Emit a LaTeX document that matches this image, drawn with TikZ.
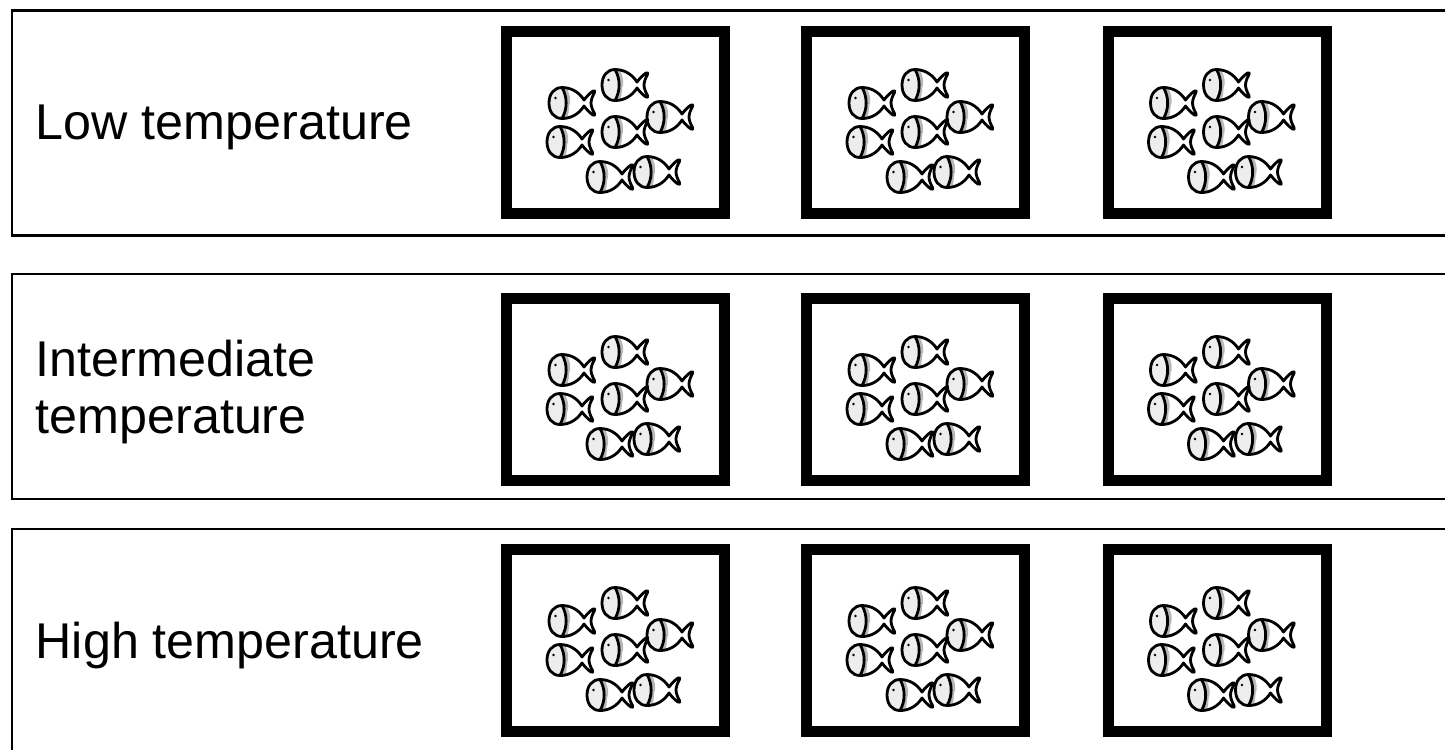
\documentclass[tikz,border=0pt]{standalone}
\usepackage{fontspec}
\setmainfont{Liberation Sans}
\usetikzlibrary{positioning}

\definecolor{headgray}{gray}{0.93}
\definecolor{bandgray}{gray}{0.72}

% seven fish around the centre of a tank
\newcommand{\fishschool}[1]{%
    \foreach \dx/\dy in {-66.5/-19.5, -13.5/-37.5, 31.5/-5.5, -13.5/9.5,
                         -68.5/19.5, -28.5/54.5, 18.5/49.5}
        \pic at ([shift={(\dx,\dy)}]#1.center) {fish};
}

\begin{document}
\begin{tikzpicture}[
        x=0.1mm, y=-0.1mm,
        rowbox/.style={rectangle, draw=black, line width=0.25mm, inner sep=0,
            minimum width=145mm, minimum height=22.5mm},
        tank/.style={rectangle, draw=black, line width=1.1mm, inner sep=0,
            minimum width=21.8mm, minimum height=18.2mm},
        rowtext/.style={inner sep=0, align=left,
            font=\fontsize{14.3}{16.2}\selectfont},
        fishline/.style={line width=0.28mm, line join=round},
        fish/.pic={
            % pale head and the darker band behind the gill
            \fill[headgray] (13,-15.5) .. controls (5,-15.5) and (0,-9) .. (0,0)
                .. controls (0,9) and (5,15.5) .. (13,15.5)
                .. controls (18.5,6) and (18.5,-6) .. (13,-15.5);
            \fill[bandgray] (13,-15.5) .. controls (18.5,-6) and (18.5,6) .. (13,15.5)
                .. controls (15,15.5) and (17,15.2) .. (18,15)
                .. controls (21,8) and (19,4) .. (21,0)
                .. controls (22,-5) and (20,-10) .. (18,-15)
                .. controls (17,-15.2) and (15,-15.5) .. (13,-15.5);
            % body and forked tail
            \draw[fishline] (35,-3) .. controls (30,-11) and (22,-15.5) .. (13,-15.5)
                .. controls (5,-15.5) and (0,-9) .. (0,0)
                .. controls (0,9) and (5,15.5) .. (13,15.5)
                .. controls (22,15.5) and (30,11) .. (35,3)
                .. controls (38,7) and (41,10) .. (44,12)
                .. controls (45.5,12.8) and (46.3,12) .. (45.5,10.5)
                .. controls (43.5,7) and (42,3) .. (42,0)
                .. controls (42,-3) and (43.5,-7) .. (45.5,-10.5)
                .. controls (46.3,-12) and (45.5,-12.8) .. (44,-12)
                .. controls (41,-10) and (38,-7) .. (35,-3) -- cycle;
            % gill and eye
            \draw[fishline] (13,-15.5) .. controls (18.5,-6) and (18.5,6) .. (13,15.5);
            \fill (6.5,-5) circle (0.14mm);
        },
    ]

    \clip (0,0) rectangle (1445,749);

    % Rows
    \node[rowbox] (lowrow)  at (737,123)   {};
    \node[rowbox] (midrow)  at (737,386.5) {};
    \node[rowbox] (highrow) at (737,641.5) {};

    \node[rowtext, anchor=base west] (lowtext) at (35,139) {Low temperature};
    \node[rowtext, anchor=west] (midtext) at (35,392) {Intermediate\\temperature};
    \node[rowtext, anchor=base west] (hightext) at (35,658) {High temperature};

    % Tanks
    \node[tank] (low1) at (615.5,122.5) {};
    \node[tank] (low2) at (915.5,122.5) {};
    \node[tank] (low3) at (1217,122.5)  {};

    \node[tank] (mid1) at (615.5,389.5) {};
    \node[tank] (mid2) at (915.5,389.5) {};
    \node[tank] (mid3) at (1217,389.5)  {};

    \node[tank] (high1) at (615.5,640.5) {};
    \node[tank] (high2) at (915.5,640.5) {};
    \node[tank] (high3) at (1217,640.5)  {};

    % Fish
    \fishschool{low1}
    \fishschool{low2}
    \fishschool{low3}
    \fishschool{mid1}
    \fishschool{mid2}
    \fishschool{mid3}
    \fishschool{high1}
    \fishschool{high2}
    \fishschool{high3}
\end{tikzpicture}
\end{document}
